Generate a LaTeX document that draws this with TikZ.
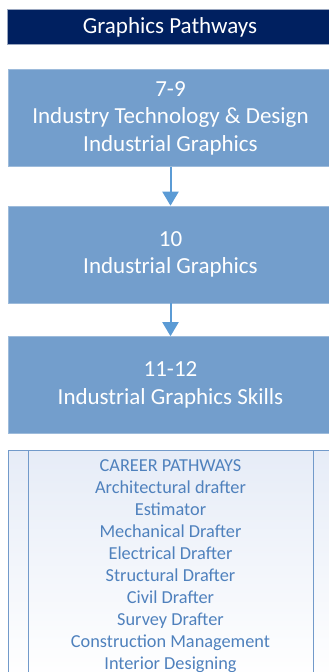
\documentclass[tikz,border=0pt]{standalone}
\usepackage{fontspec}
\setmainfont{Carlito}
\usetikzlibrary{arrows.meta}
\definecolor{navy}{HTML}{002060}
\definecolor{stepblue}{HTML}{739ECC}
\definecolor{linkblue}{HTML}{5B9BD5}
\definecolor{careerblue}{HTML}{4F81BD}
\definecolor{framebg}{HTML}{E6ECF7}
\tikzset{
  titlebar/.style={fill=navy,draw=navy!40!white,line width=0.8pt,text=white,
    minimum width=326pt,minimum height=35pt,font=\fontsize{23}{26}\selectfont},
  gradebox/.style={fill=stepblue,draw=stepblue!70!white,line width=0.6pt,text=white,
    minimum width=325pt,minimum height=97pt,align=center,
    font=\fontsize{23}{27.5}\selectfont},
  link/.style={draw=linkblue,line width=2pt,-{Triangle[width=16pt,length=14pt]}},
  careers/.style={text=careerblue,align=center,font=\fontsize{18.3}{22}\selectfont}
}
\begin{document}
\begin{tikzpicture}[x=1pt,y=-1pt]
\useasboundingbox (0,0) rectangle (329,672);
%
\node[titlebar] (title) at (170,27) {Graphics Pathways};
%
\node[gradebox] (g79) at (170.5,118) {7-9\\Industry Technology \& Design\\Industrial Graphics};
\node[gradebox] (g10) at (170.5,254.5) {10\\Industrial Graphics};
\node[gradebox] (g1112) at (170.5,385) {11-12\\Industrial Graphics Skills};
%
\draw[link] (g79.south) -- (g10.north);
\draw[link] (g10.south) -- (g1112.north);
%
\shade[top color=framebg,bottom color=white] (8,450) rectangle (333,680);
\draw[careerblue!80!white,line width=0.9pt] (8,680) -- (8,450) -- (333,450) -- (333,680);
\draw[careerblue!80!white,line width=0.9pt] (28,450) -- (28,680);
\draw[careerblue!80!white,line width=0.9pt] (313,450) -- (313,680);
\node[careers,anchor=north] (jobs) at (170.5,456) {CAREER PATHWAYS\\Architectural drafter\\Estimator\\
  Mechanical Drafter\\Electrical Drafter\\Structural Drafter\\Civil Drafter\\Survey Drafter\\
  Construction Management\\Interior Designing};
\end{tikzpicture}
\end{document}
